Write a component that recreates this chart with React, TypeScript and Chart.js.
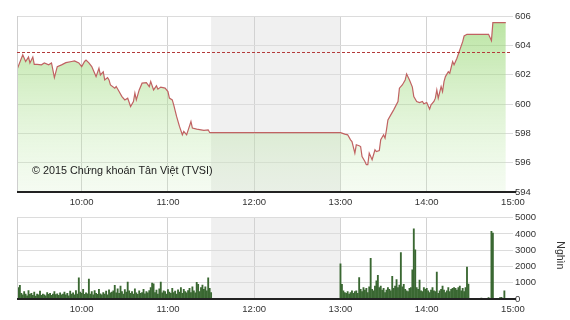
import { useEffect, useRef } from 'react';
import { Chart, registerables } from 'chart.js';

Chart.register(...registerables);

const SESSION_START = '09:15';
const SESSION_END = '15:00';
const LUNCH_START = '11:30';
const LUNCH_END = '13:00';
const timeTicks = ['10:00', '11:00', '12:00', '13:00', '14:00', '15:00'];
const priceTicks = [594, 596, 598, 600, 602, 604, 606];
const volumeTicks = [0, 1000, 2000, 3000, 4000, 5000];
const referencePrice = 603.57;
const copyrightText = '© 2015 Chứng khoán Tân Việt (TVSI)';
const volumeUnit = 'Nghìn';

const morningTimes = [
  '09:15', '09:19', '09:21', '09:23', '09:24', '09:26', '09:27', '09:29', '09:32', '09:34',
  '09:37', '09:39', '09:41', '09:43', '09:46', '09:49', '09:53', '09:55', '09:58', '10:00',
  '10:02', '10:03', '10:05', '10:07', '10:09', '10:10', '10:12', '10:13', '10:15', '10:16',
  '10:18', '10:19', '10:20', '10:23', '10:24', '10:26', '10:28', '10:30', '10:32', '10:34',
  '10:36', '10:37', '10:38', '10:40', '10:42', '10:45', '10:47', '10:48', '10:50', '10:52',
  '10:53', '10:55', '10:58', '11:00', '11:01', '11:03', '11:04', '11:06', '11:08', '11:10',
  '11:11', '11:13', '11:14', '11:16', '11:17', '11:20', '11:23', '11:25', '11:28', '11:29',
  '11:30',
];
const morningPrices = [
  602.35, 603.35, 602.9, 603.2, 602.8, 603.2, 602.7, 602.7, 602.67, 602.8,
  602.67, 602.8, 601.8, 602.55, 602.67, 602.82, 602.9, 602.94, 602.8, 602.55,
  602.9, 603.0, 602.8, 602.55, 602.1, 601.87, 602.44, 601.98, 602.2, 601.64,
  601.8, 601.64, 601.3, 601.08, 601.19, 600.85, 600.5, 600.28, 600.4, 599.83,
  600.17, 600.74, 600.28, 600.96, 601.42, 601.46, 601.19, 601.53, 600.96, 601.24,
  601.01, 601.15, 601.08, 600.85, 600.4, 600.28, 599.94, 599.15, 598.47, 597.9,
  598.13, 597.9, 598.2, 598.8, 598.36, 598.29, 598.24, 598.2, 598.24, 598.06,
  598.05,
];

const afternoonTimes = [
  '13:00', '13:03', '13:05', '13:07', '13:08', '13:10', '13:11', '13:13', '13:14', '13:15',
  '13:17', '13:18', '13:19', '13:20', '13:22', '13:24', '13:25', '13:27', '13:28', '13:30',
  '13:31', '13:32', '13:33', '13:35', '13:37', '13:40', '13:41', '13:43', '13:45', '13:46',
  '13:48', '13:50', '13:51', '13:53', '13:55', '13:57', '13:58', '14:00', '14:02', '14:03',
  '14:05', '14:06', '14:07', '14:08', '14:10', '14:11', '14:12', '14:13', '14:15', '14:16',
  '14:18', '14:19', '14:21', '14:23', '14:25', '14:26', '14:28', '14:43', '14:45', '14:46',
  '14:55',
];
const afternoonPrices = [
  598.05, 597.95, 597.9, 597.56, 597.44, 596.65, 597.22, 597.15, 597.1, 596.42,
  596.08, 595.86, 595.86, 596.65, 596.2, 596.88, 596.76, 596.83, 597.56, 597.9,
  597.67, 598.24, 598.92, 599.26, 599.6, 600.17, 601.08, 601.3, 601.64, 602.05,
  601.64, 601.15, 600.5, 600.17, 600.1, 600.17, 600.01, 600.1, 599.65, 599.94,
  600.17, 600.4, 600.96, 600.4, 601.19, 600.85, 601.53, 601.87, 602.2, 602.1,
  602.89, 602.67, 603.12, 603.69, 604.25, 604.64, 604.75, 604.75, 604.32, 605.55,
  605.55,
];

// one bar per minute starting at 09:15
const morningVolume = [
  300, 700, 840, 350, 250, 450, 300, 200, 520, 280,
  350, 230, 420, 180, 300, 260, 480, 220, 310, 250,
  200, 400, 280, 350, 230, 300, 460, 270, 320, 220,
  380, 250, 300, 420, 260, 350, 200, 480, 300, 380,
  250, 520, 300, 1300, 420, 350, 600, 280, 380, 320,
  1220, 300, 450, 260, 520, 350, 280, 600, 320, 250,
  400, 300, 480, 260, 560, 380, 420, 500, 840, 380,
  620, 350, 800, 450, 300, 580, 420, 1040, 500, 350,
  450, 300, 620, 380, 280, 500, 350, 400, 600, 320,
  450, 380, 520, 700, 980, 940, 400, 550, 300, 620,
  1040, 380, 500, 450, 300, 580, 420, 350, 650, 400,
  480, 300, 560, 420, 700, 350, 600, 450, 380, 520,
  650, 400, 750, 500, 380, 1030, 900, 450, 700, 850,
  600, 750, 500, 1300, 650, 400,
];
// one bar per minute starting at 13:00
const afternoonVolume = [
  2160,
  900, 500, 400, 350, 450, 300, 400, 500, 350, 450,
  500, 350, 1320, 600, 450, 700, 550, 650, 400, 750,
  2500, 600, 500, 800, 1120, 1460, 700, 800, 550, 650,
  400, 550, 700, 600, 500, 1400, 650, 800, 1200, 700,
  850, 2860, 750, 900, 600, 500, 450, 650, 700, 1800,
  4320, 3020, 700, 600, 1160, 500, 450, 700, 600, 650,
  500, 400, 550, 700, 500, 450, 1660, 350, 500, 600,
  800, 550, 400, 500, 700, 450, 600, 650, 700, 650,
  550, 700, 800, 500, 650, 450, 700, 1960, 920,
];
const lateVolumeTimes = ['14:38', '14:43', '14:45', '14:46', '14:51', '14:52', '14:54'];
const lateVolume = [60, 80, 4160, 4050, 90, 100, 500];

const FONT = 'Liberation Sans, Arial, sans-serif';
const toMin = (s: string) => {
  const [h, m] = s.split(':').map(Number);
  return h * 60 + m;
};
const fmt = (v: number) => `${Math.floor(v / 60)}:${String(v % 60).padStart(2, '0')}`;

const xScale = (height: number) => ({
  type: 'linear' as const,
  min: toMin(SESSION_START),
  max: toMin(SESSION_END),
  offset: false,
  afterBuildTicks: (s: any) => {
    s.ticks = timeTicks.map((t) => ({ value: toMin(t) }));
  },
  afterFit: (s: any) => {
    s.height = height;
  },
  grid: {
    offset: false,
    drawTicks: false,
    color: (c: any) => (c.tick && c.tick.value === toMin(SESSION_END) ? 'rgba(0,0,0,0)' : '#d2d2d2'),
  },
  border: { display: false },
  ticks: {
    padding: 5,
    maxRotation: 0,
    autoSkip: false,
    color: '#333',
    font: { family: FONT, size: 9.5 },
    callback: (v: any) => fmt(Number(v)),
  },
});

const yScale = (min: number, max: number, values: number[]) => ({
  position: 'right' as const,
  min,
  max,
  afterBuildTicks: (s: any) => {
    s.ticks = values.map((v) => ({ value: v }));
  },
  afterFit: (s: any) => {
    s.width = 57;
  },
  grid: { drawTicks: false, color: '#dcdcdc' },
  border: { display: false },
  ticks: {
    padding: 2,
    color: '#333',
    font: { family: FONT, size: 9.5 },
    callback: (v: any) => String(v),
  },
});

const decor = (extra?: (chart: any) => void) => ({
  id: 'decor',
  beforeDraw(chart: any) {
    const { ctx, chartArea: a, scales } = chart;
    const x1 = scales.x.getPixelForValue(toMin(LUNCH_START));
    const x2 = scales.x.getPixelForValue(toMin(LUNCH_END));
    ctx.save();
    ctx.fillStyle = '#f0f0f0';
    ctx.fillRect(x1, a.top, x2 - x1, a.bottom - a.top);
    ctx.restore();
  },
  afterDraw(chart: any) {
    const { ctx, chartArea: a } = chart;
    ctx.save();
    ctx.strokeStyle = '#cfcfcf';
    ctx.lineWidth = 1;
    ctx.beginPath();
    ctx.moveTo(a.left + 0.5, a.top);
    ctx.lineTo(a.left + 0.5, a.bottom);
    ctx.stroke();
    ctx.strokeStyle = '#222';
    ctx.lineWidth = 2;
    ctx.beginPath();
    ctx.moveTo(a.left, a.bottom);
    ctx.lineTo(a.right + 3, a.bottom);
    ctx.stroke();
    ctx.restore();
    if (extra) extra(chart);
  },
});

export default function App() {
  const priceRef = useRef<HTMLCanvasElement>(null);
  const volRef = useRef<HTMLCanvasElement>(null);

  useEffect(() => {
    const priceData = [
      ...morningTimes.map((t, i) => ({ x: toMin(t), y: morningPrices[i] })),
      ...afternoonTimes.map((t, i) => ({ x: toMin(t), y: afternoonPrices[i] })),
    ];
    const m0 = toMin(SESSION_START);
    const a0 = toMin(LUNCH_END);
    const volData = [
      ...morningVolume.map((v, i) => ({ x: m0 + i, y: v })),
      ...afternoonVolume.map((v, i) => ({ x: a0 + i, y: v })),
      ...lateVolumeTimes.map((t, i) => ({ x: toMin(t), y: lateVolume[i] })),
    ];

    const priceChart = new Chart(priceRef.current!, {
      type: 'line',
      data: {
        datasets: [
          {
            data: priceData,
            borderColor: 'rgb(192,98,98)',
            borderWidth: 1.2,
            pointRadius: 0,
            tension: 0,
            fill: 'start',
            backgroundColor: (c: any) => {
              const a = c.chart.chartArea;
              if (!a) return 'rgba(0,0,0,0)';
              const g = c.chart.ctx.createLinearGradient(0, a.top, 0, a.bottom);
              g.addColorStop(0, 'rgba(140,210,100,0.62)');
              g.addColorStop(1, 'rgba(205,238,190,0.2)');
              return g;
            },
          },
        ],
      },
      options: {
        animation: false,
        responsive: false,
        devicePixelRatio: 1,
        layout: { padding: { left: 17, top: 16, right: 0, bottom: 0 } },
        plugins: { legend: { display: false }, tooltip: { enabled: false } },
        scales: {
          x: xScale(18) as any,
          y: yScale(594, 606, priceTicks) as any,
        },
      },
      plugins: [
        decor((chart: any) => {
          const { ctx, chartArea: a, scales } = chart;
          const yRef = scales.y.getPixelForValue(referencePrice);
          ctx.save();
          ctx.strokeStyle = '#b33a3a';
          ctx.lineWidth = 1;
          ctx.setLineDash([3, 2]);
          ctx.beginPath();
          ctx.moveTo(a.left, Math.round(yRef) + 0.5);
          ctx.lineTo(a.right - 2, Math.round(yRef) + 0.5);
          ctx.stroke();
          ctx.setLineDash([]);
          ctx.fillStyle = '#222';
          ctx.font = `10.8px ${FONT}`;
          ctx.textBaseline = 'middle';
          ctx.textAlign = 'left';
          ctx.fillText(copyrightText, 32, 171);
          ctx.restore();
        }),
      ],
    });

    const volChart = new Chart(volRef.current!, {
      type: 'bar',
      data: {
        datasets: [
          {
            data: volData,
            backgroundColor: '#3a6832',
            barThickness: 1.2,
            borderWidth: 0,
          },
        ],
      },
      options: {
        animation: false,
        responsive: false,
        devicePixelRatio: 1,
        layout: { padding: { left: 17, top: 6, right: 0, bottom: 0 } },
        plugins: { legend: { display: false }, tooltip: { enabled: false } },
        scales: {
          x: xScale(21) as any,
          y: yScale(0, 5000, volumeTicks) as any,
        },
      },
      plugins: [
        decor((chart: any) => {
          const { ctx, chartArea: a } = chart;
          ctx.save();
          ctx.fillStyle = '#333';
          ctx.font = `10.5px ${FONT}`;
          ctx.textAlign = 'center';
          ctx.textBaseline = 'middle';
          ctx.translate(560, (a.top + a.bottom) / 2 - 3);
          ctx.rotate(Math.PI / 2);
          ctx.fillText(volumeUnit, 0, 0);
          ctx.restore();
        }),
      ],
    });

    return () => {
      priceChart.destroy();
      volChart.destroy();
    };
  }, []);

  return (
    <div style={{ position: 'absolute', left: 0, top: 0, width: 570, height: 320, background: '#fff' }}>
      <canvas ref={priceRef} width={570} height={210} style={{ position: 'absolute', left: 0, top: 0 }} />
      <canvas ref={volRef} width={570} height={110} style={{ position: 'absolute', left: 0, top: 210 }} />
    </div>
  );
}
